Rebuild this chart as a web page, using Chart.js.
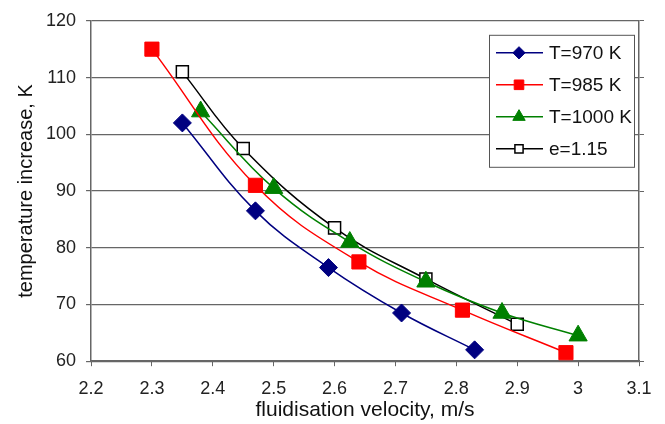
<!DOCTYPE html>
<html>
<head>
<meta charset="utf-8">
<script src="https://cdn.jsdelivr.net/npm/chart.js@4.4.0/dist/chart.umd.min.js"></script>
<style>
  html, body { margin: 0; padding: 0; background: #fff; }
  #wrap { width: 665px; height: 424px; }
</style>
</head>
<body>
<div id="wrap"><canvas id="chart"></canvas></div>
<script>
// Temperature increase vs fluidisation velocity
const vel970 = [2.35, 2.47, 2.59, 2.71, 2.83];
const temp970 = [102, 86.5, 76.5, 68.5, 62];

const vel985 = [2.30, 2.47, 2.64, 2.81, 2.98];
const temp985 = [115, 91, 77.5, 69, 61.5];

const vel1000 = [2.38, 2.50, 2.625, 2.75, 2.875, 3.00];
const temp1000 = [104, 90.5, 81, 74, 68.5, 64.5];

const velE = [2.35, 2.45, 2.60, 2.75, 2.90];
const tempE = [111, 97.5, 83.5, 74.5, 66.5];

const seriesNames = ['T=970 K', 'T=985 K', 'T=1000 K', 'e=1.15'];

const xTicks = [2.2, 2.3, 2.4, 2.5, 2.6, 2.7, 2.8, 2.9, 3, 3.1];
const yTicks = [60, 70, 80, 90, 100, 110, 120];

const FONT = 'Liberation Sans, Arial, sans-serif';
const GRID = '#666666';

function toPoints(xs, ys) {
    return xs.map((x, i) => ({ x: x, y: ys[i] }));
}

function series(label, xs, ys, color, style, radius, fill) {
    return {
        label: label,
        data: toPoints(xs, ys),
        showLine: true,
        borderColor: color,
        borderWidth: 1.5,
        tension: 0.4,
        pointStyle: style,
        pointRadius: radius,
        pointHoverRadius: radius,
        pointBackgroundColor: fill,
        pointBorderColor: color,
        pointBorderWidth: fill === '#ffffff' ? 1.5 : 1
    };
}

// Legend box drawn inside the plot area
const boxLegend = {
    id: 'boxLegend',
    afterDraw(chart) {
        const ctx = chart.ctx;
        const area = chart.chartArea;
        const w = 145, h = 132;
        const left = area.right - 150;
        const top = area.top + 14;
        ctx.save();
        ctx.fillStyle = '#ffffff';
        ctx.fillRect(left, top, w, h);
        ctx.strokeStyle = '#555555';
        ctx.lineWidth = 1;
        ctx.strokeRect(left + 0.5, top + 0.5, w, h);
        ctx.font = '19px ' + FONT;
        ctx.textBaseline = 'middle';
        chart.data.datasets.forEach((ds, i) => {
            const y = top + 18 + i * 32;
            ctx.strokeStyle = ds.borderColor;
            ctx.lineWidth = ds.borderWidth;
            ctx.beginPath();
            ctx.moveTo(left + 7, y);
            ctx.lineTo(left + 54, y);
            ctx.stroke();
            ctx.fillStyle = ds.pointBackgroundColor;
            ctx.strokeStyle = ds.pointBorderColor;
            ctx.lineWidth = ds.pointBorderWidth;
            Chart.helpers.drawPoint(ctx, {
                pointStyle: ds.pointStyle,
                radius: ds.pointRadius * 0.68,
                rotation: 0,
                borderWidth: ds.pointBorderWidth
            }, left + 30, y);
            ctx.fillStyle = '#111111';
            ctx.fillText(seriesNames[i], left + 60, y + 1);
        });
        ctx.restore();
    }
};

new Chart(document.getElementById('chart'), {
    type: 'scatter',
    data: {
        datasets: [
            series(seriesNames[0], vel970, temp970, '#000080', 'rectRot', 9, '#000080'),
            series(seriesNames[1], vel985, temp985, '#ff0000', 'rect', 10, '#ff0000'),
            series(seriesNames[2], vel1000, temp1000, '#008000', 'triangle', 10.5, '#008000'),
            series(seriesNames[3], velE, tempE, '#000000', 'rect', 8.5, '#ffffff')
        ]
    },
    options: {
        responsive: true,
        maintainAspectRatio: false,
        animation: false,
        layout: { padding: { top: 15, right: 21, left: 7, bottom: 1 } },
        plugins: {
            legend: { display: false },
            tooltip: { enabled: false }
        },
        scales: {
            x: {
                type: 'linear',
                min: xTicks[0],
                max: xTicks[xTicks.length - 1],
                afterBuildTicks: axis => { axis.ticks = xTicks.map(v => ({ value: v })); },
                grid: { drawOnChartArea: false, color: GRID, tickLength: 5 },
                border: { color: GRID, width: 1.5 },
                ticks: { color: '#222', font: { family: FONT, size: 18 }, padding: 12, callback: v => String(v) },
                title: { display: true, text: 'fluidisation velocity, m/s', color: '#111', font: { family: FONT, size: 21 }, padding: { top: -14, bottom: 0 } }
            },
            y: {
                min: yTicks[0],
                max: yTicks[yTicks.length - 1],
                afterBuildTicks: axis => { axis.ticks = yTicks.map(v => ({ value: v })); },
                grid: { color: GRID, tickLength: 5, lineWidth: 1.2 },
                border: { color: GRID, width: 1.5 },
                ticks: { color: '#222', font: { family: FONT, size: 18 }, padding: 10 },
                title: { display: true, text: 'temperature increase, K', color: '#111', font: { family: FONT, size: 20 }, padding: { top: 7, bottom: -2 } }
            },
            y2: {
                position: 'right',
                min: yTicks[0],
                max: yTicks[yTicks.length - 1],
                afterBuildTicks: axis => { axis.ticks = yTicks.map(v => ({ value: v })); },
                grid: { drawOnChartArea: false, color: GRID, tickLength: 5 },
                border: { color: GRID, width: 1.5 },
                ticks: { display: false }
            }
        }
    },
    plugins: [boxLegend]
});
</script>
</body>
</html>
